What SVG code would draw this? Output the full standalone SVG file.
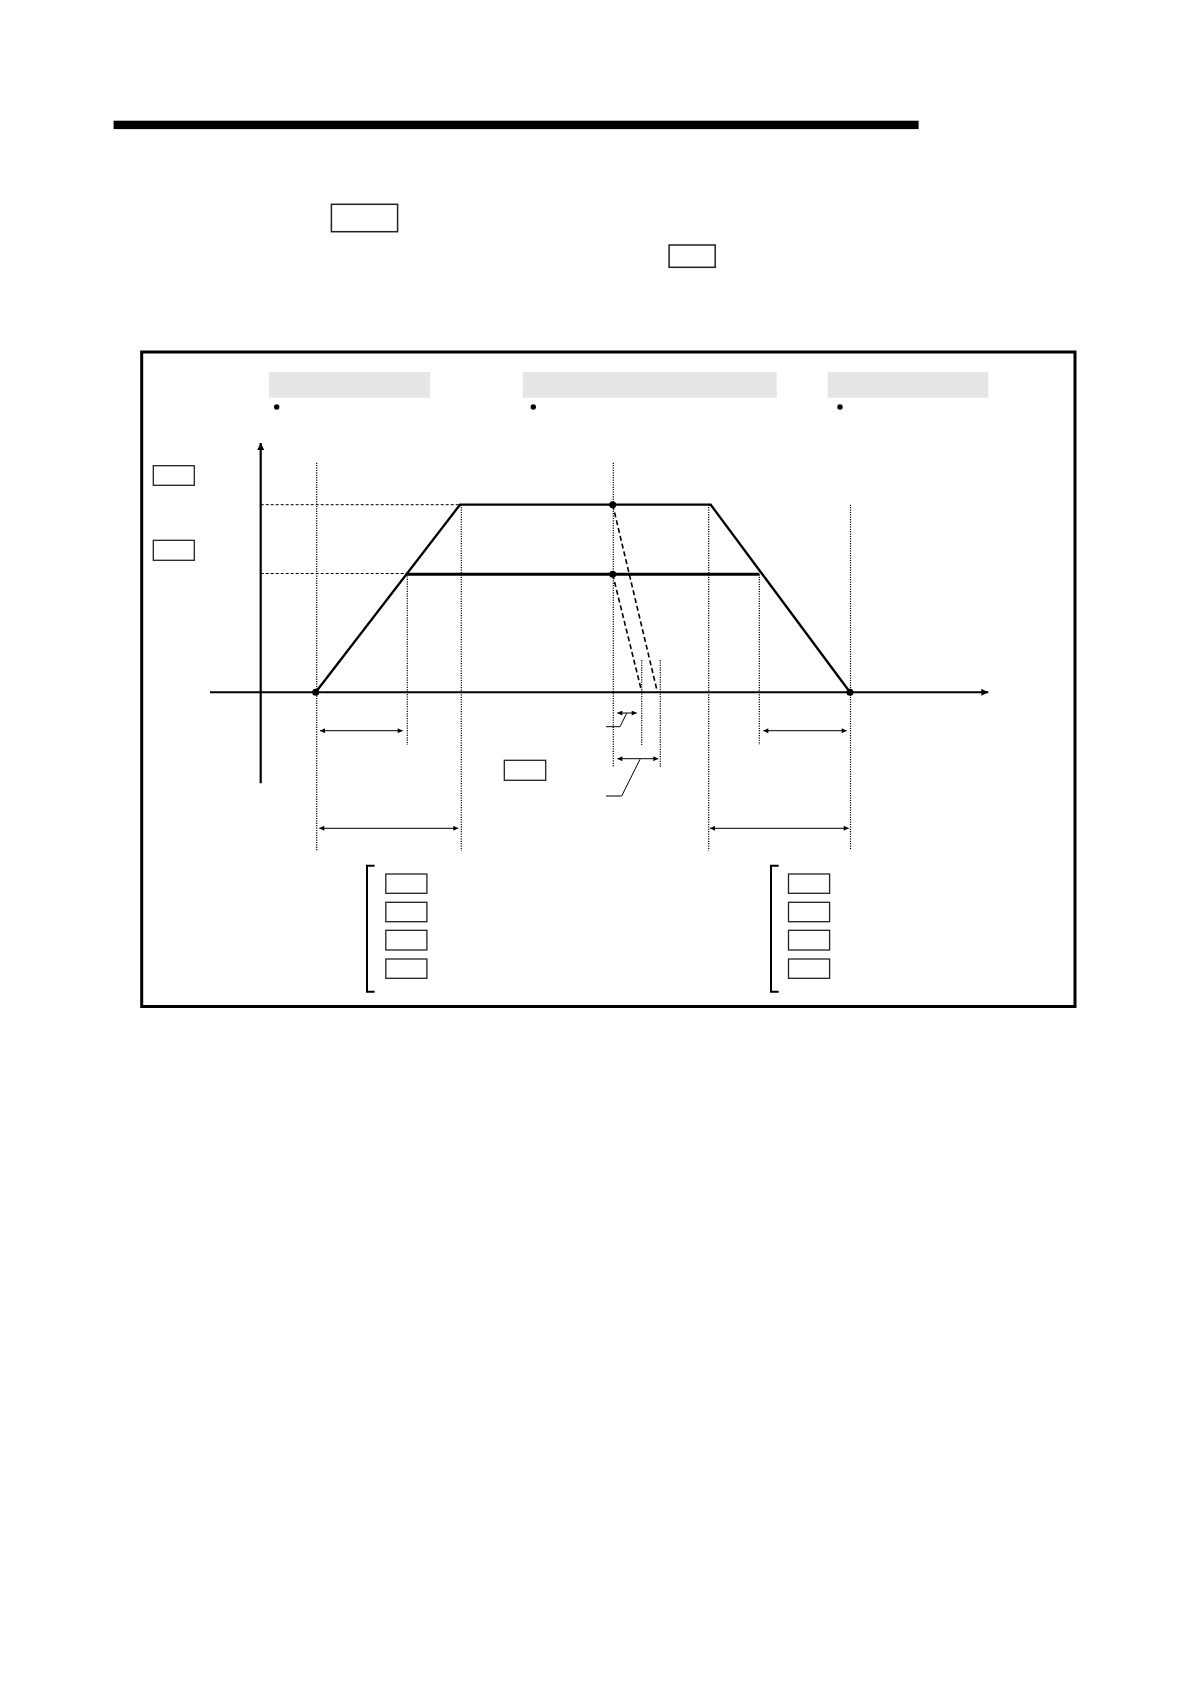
<svg xmlns="http://www.w3.org/2000/svg" width="1190" height="1684" viewBox="0 0 1190 1684">
<style>
.box{fill:#fff;stroke:#222;stroke-width:1.3}
.gray{fill:#e6e6e6;stroke:none}
.dot{fill:#000}
.dotted{stroke:#000;stroke-width:1.2;stroke-dasharray:1.2,1.2;fill:none}
.dashed{stroke:#000;stroke-width:1;stroke-dasharray:3,2;fill:none}
.curve{stroke:#000;fill:none;stroke-linejoin:miter}
.dim{stroke:#000;stroke-width:1;fill:none;marker-start:url(#ah);marker-end:url(#ah)}
.lead{stroke:#000;stroke-width:1;fill:none}
</style>
<defs>
<marker id="ah" viewBox="0 0 10 10" refX="10" refY="5" markerWidth="7" markerHeight="5" orient="auto-start-reverse" markerUnits="userSpaceOnUse">
<path d="M0,0 L10,5 L0,10 z" fill="#000"/>
</marker>
<marker id="ax" viewBox="0 0 10 10" refX="10" refY="5" markerWidth="10" markerHeight="7" orient="auto" markerUnits="userSpaceOnUse">
<path d="M0,0 L10,5 L0,10 z" fill="#000"/>
</marker>
</defs>
<rect width="1190" height="1684" fill="#fff"/>
<g id="header">
<rect x="113.6" y="120.7" width="805" height="8.4" fill="#000"/>
<rect id="box-top1" class="box" x="331.4" y="204.3" width="66.2" height="27.4" style="stroke-width:1.5"/>
<rect id="box-top2" class="box" x="669.1" y="245" width="46.1" height="22.3" style="stroke-width:1.5"/>
</g>
<g id="frame">
<rect x="141.7" y="352" width="933.3" height="654.5" fill="none" stroke="#000" stroke-width="3"/>
</g>
<g id="labels">
<rect id="gray1" class="gray" x="269" y="372" width="161" height="25.7"/>
<rect id="gray2" class="gray" x="522.7" y="372" width="254" height="25.7"/>
<rect id="gray3" class="gray" x="827.7" y="372" width="160.6" height="25.7"/>
<circle class="dot" cx="276.7" cy="407" r="2.7"/>
<circle class="dot" cx="533.3" cy="407" r="2.7"/>
<circle class="dot" cx="840" cy="407" r="2.7"/>
<rect id="box-v1" class="box" x="153.3" y="465.7" width="41" height="19.6"/>
<rect id="box-v2" class="box" x="153.3" y="540.3" width="41" height="20"/>
<rect id="box-mid" class="box" x="504.3" y="760.3" width="41.4" height="20"/>
</g>
<g id="guides">
<line class="dashed" x1="260.7" y1="504.7" x2="460" y2="504.7"/>
<line class="dashed" x1="260.7" y1="573.5" x2="406.7" y2="573.5"/>
<line class="dotted" x1="316.7" y1="462.7" x2="316.7" y2="850.7"/>
<line class="dotted" x1="461.3" y1="504.7" x2="461.3" y2="850.7"/>
<line class="dotted" x1="407.3" y1="574" x2="407.3" y2="745"/>
<line class="dotted" x1="613.3" y1="462.7" x2="613.3" y2="767.3"/>
<line class="dotted" x1="641.7" y1="660" x2="641.7" y2="745"/>
<line class="dotted" x1="660.3" y1="660" x2="660.3" y2="767"/>
<line class="dotted" x1="708.7" y1="504.7" x2="708.7" y2="850.7"/>
<line class="dotted" x1="759.3" y1="574.3" x2="759.3" y2="745"/>
<line class="dotted" x1="850.5" y1="504.7" x2="850.5" y2="849.3"/>
</g>
<g id="axes">
<line x1="260.7" y1="783.3" x2="260.7" y2="443" stroke="#000" stroke-width="2.2" marker-end="url(#ax)"/>
<line x1="210" y1="692.3" x2="988.3" y2="692.3" stroke="#000" stroke-width="2" marker-end="url(#ax)"/>
</g>
<g id="connectors">
<polyline class="curve" points="315.7,692.3 460,504.7 710.7,504.7 850,692.3" stroke-width="2.3"/>
<line class="curve" x1="406.7" y1="574.3" x2="759.3" y2="574.3" stroke-width="3"/>
<line class="dashed" x1="612.7" y1="574.3" x2="641.7" y2="691.7" style="stroke-width:1.6;stroke-dasharray:5,3"/>
<line class="dashed" x1="612.7" y1="504.7" x2="657.3" y2="691.7" style="stroke-width:1.6;stroke-dasharray:5,3"/>
<line class="dim" x1="320" y1="730.7" x2="402.7" y2="730.7"/>
<line class="dim" x1="319.3" y1="828.3" x2="458.3" y2="828.3"/>
<line class="dim" x1="617.3" y1="713" x2="636.7" y2="713"/>
<line class="dim" x1="617.3" y1="758.7" x2="658.3" y2="758.7"/>
<line class="dim" x1="763.3" y1="730.7" x2="846.7" y2="730.7"/>
<line class="dim" x1="710" y1="828.3" x2="848.7" y2="828.3"/>
<polyline class="lead" points="626.7,713.3 620,726.7 606,726.7"/>
<polyline class="lead" points="640,759.3 621.7,796 606,796"/>
</g>
<g id="points">
<circle class="dot" cx="315.7" cy="692.3" r="3.5"/>
<circle class="dot" cx="612.7" cy="504.7" r="3.5"/>
<circle class="dot" cx="612.7" cy="574.3" r="3.5"/>
<circle class="dot" cx="850" cy="692.3" r="3.5"/>
</g>
<g id="bracket-left">
<path d="M374.6,865.7 H367 V991.7 H374.6" fill="none" stroke="#000" stroke-width="2"/>
<rect class="box" x="385.8" y="874" width="41.1" height="19.3"/>
<rect class="box" x="385.8" y="902.3" width="41.1" height="19.4"/>
<rect class="box" x="385.8" y="930.3" width="41.1" height="19.7"/>
<rect class="box" x="385.8" y="959" width="41.1" height="19.3"/>
</g>
<g id="bracket-right">
<path d="M778.7,865.7 H771 V991.7 H778.7" fill="none" stroke="#000" stroke-width="2"/>
<rect class="box" x="788.5" y="874" width="41.1" height="19.3"/>
<rect class="box" x="788.5" y="902.3" width="41.1" height="19.4"/>
<rect class="box" x="788.5" y="930.3" width="41.1" height="19.7"/>
<rect class="box" x="788.5" y="959" width="41.1" height="19.3"/>
</g>
</svg>
